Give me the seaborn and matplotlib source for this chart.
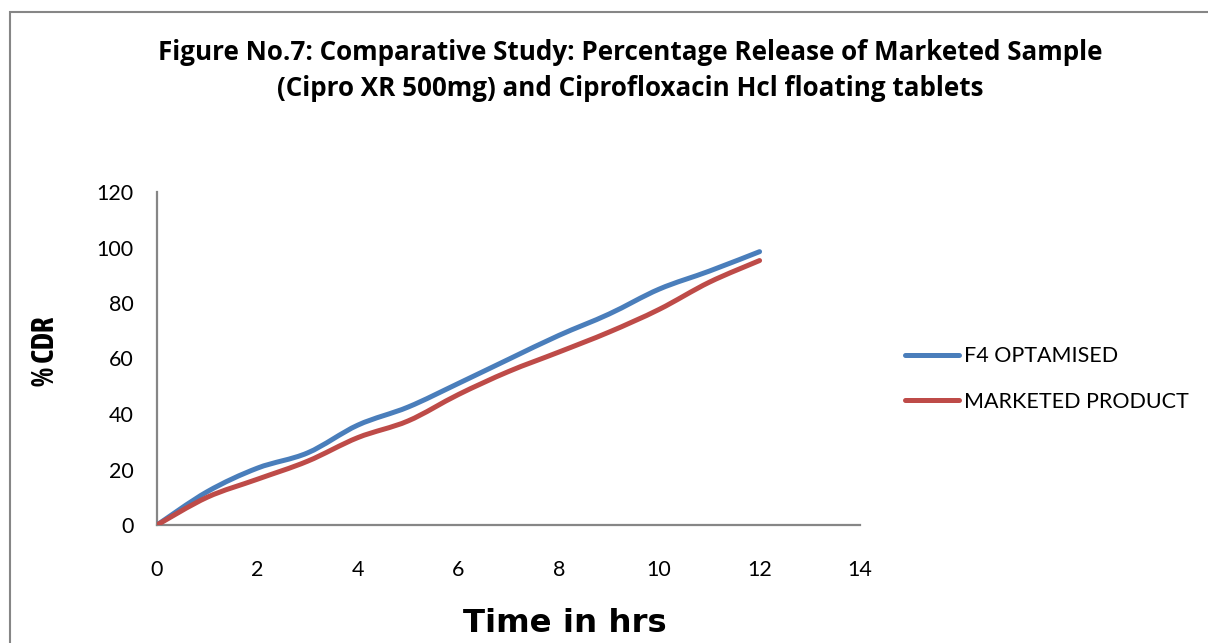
import matplotlib
matplotlib.use("Agg")
import matplotlib.pyplot as plt
from matplotlib import font_manager
from matplotlib.path import Path
from matplotlib.patches import PathPatch, Rectangle
from matplotlib.lines import Line2D
import numpy as np
import pandas as pd
import seaborn as sns

# Dissolution data: % cumulative drug release versus time (hours)
time_hrs = [0, 1, 2, 3, 4, 5, 6, 7, 8, 9, 10, 11, 12]
f4_optimised = [0, 12, 20.5, 26, 36, 42.5, 51, 59.7, 68.3, 76, 85, 91.5, 98.5]
marketed_product = [0, 10, 16.5, 23, 31.5, 37.5, 47, 55.3, 62.3, 69.5, 77.7, 87.5, 95.3]
series_names = ["F4 OPTAMISED", "MARKETED PRODUCT"]
series_colors = ["#4A7EBB", "#BE4B48"]
x_ticks = [0, 2, 4, 6, 8, 10, 12, 14]
y_ticks = [0, 20, 40, 60, 80, 100, 120]

df = pd.concat([
    pd.DataFrame({"time": time_hrs, "cdr": f4_optimised, "series": series_names[0]}),
    pd.DataFrame({"time": time_hrs, "cdr": marketed_product, "series": series_names[1]}),
])

sns.set_theme(style="white")
plt.rcParams["font.family"] = ["Lato", "DejaVu Sans"]
plt.rcParams["text.color"] = "black"

# Pick a narrow bold face for the vertical axis title if one is installed
narrow_family = None
for f in font_manager.fontManager.ttflist:
    nm = f.name.lower()
    if ("narrow" in nm or "condensed" in nm) and ("bold" in str(f.weight).lower() or f.weight in (600, 700, 800, 900)):
        narrow_family = f.name
        break
if narrow_family is None:
    for f in font_manager.fontManager.ttflist:
        nm = f.name.lower()
        if "narrow" in nm or "condensed" in nm:
            narrow_family = f.name
            break
y_title_family = [narrow_family, "DejaVu Sans"] if narrow_family else ["DejaVu Sans"]
y_title_size = 22 if narrow_family else 16

W, H = 1208, 643
fig = plt.figure(figsize=(W / 100, H / 100), dpi=100)
fig.patch.set_facecolor("white")
ax = fig.add_axes([157 / W, 1 - 525 / H, (860 - 157) / W, (525 - 192) / H])

sns.lineplot(data=df, x="time", y="cdr", hue="series", palette=series_colors,
             linewidth=3.6, ax=ax, legend=False)


def smooth_path(x, y):
    """Bezier path through the points, using spreadsheet-style smoothing."""
    pts = np.column_stack([x, y]).astype(float)
    n = len(pts)
    verts = [pts[0]]
    codes = [Path.MOVETO]
    for i in range(n - 1):
        p0 = pts[i - 1] if i > 0 else pts[i]
        p1, p2 = pts[i], pts[i + 1]
        p3 = pts[i + 2] if i + 2 < n else pts[i + 1]
        c1 = p1 + (p2 - p0) / 6.0
        c2 = p2 - (p3 - p1) / 6.0
        verts += [c1, c2, p2]
        codes += [Path.CURVE4] * 3
    return Path(verts, codes)


# Replace straight segments with smoothed curves
for line in list(ax.lines):
    xs, ys = line.get_xdata(), line.get_ydata()
    patch = PathPatch(smooth_path(xs, ys), facecolor="none", edgecolor=line.get_color(),
                      linewidth=3.6, capstyle="round", joinstyle="round", zorder=3)
    ax.add_patch(patch)
    line.set_visible(False)

ax.set_xlim(0, 14)
ax.set_ylim(0, 120)
ax.set_xticks(x_ticks)
ax.set_yticks(y_ticks)
ax.set_xticklabels([str(t) for t in x_ticks])
ax.set_yticklabels([str(t) for t in y_ticks])
ax.tick_params(axis="x", length=0, pad=25, labelsize=15.5, colors="black")
ax.tick_params(axis="y", length=0, pad=17, labelsize=15.5, colors="black")
ax.set_xlabel("")
ax.set_ylabel("")
for side in ["top", "right"]:
    ax.spines[side].set_visible(False)
for side in ["left", "bottom"]:
    ax.spines[side].set_color("#868686")
    ax.spines[side].set_linewidth(1.6)
ax.grid(False)

# Legend
handles = [Line2D([0], [0], color=c, linewidth=3.6, solid_capstyle="round") for c in series_colors]
fig.legend(handles, series_names, loc="center left",
           bbox_to_anchor=(905 / W, 1 - 379 / H), frameon=False,
           fontsize=15.5, handlelength=2.5, handletextpad=0.25,
           labelspacing=1.2, borderpad=0, borderaxespad=0)

# Titles and axis labels
title_kw = dict(ha="center", va="center", fontsize=18.7, fontweight="bold",
                color="black", family=["Open Sans", "Lato", "DejaVu Sans"])
fig.text(630 / W, 1 - 53 / H, "Figure No.7: Comparative Study: Percentage Release of Marketed Sample",
         **title_kw)
fig.text(630 / W, 1 - 89 / H, "(Cipro XR 500mg) and Ciprofloxacin Hcl floating tablets",
         **title_kw)
fig.text(565 / W, 1 - 623 / H, "Time in hrs", ha="center", va="center",
         fontsize=23.3, fontweight="bold", color="black", family=["DejaVu Sans"])
fig.text(45 / W, 1 - 351 / H, "% CDR", ha="center", va="center", rotation=90,
         fontsize=y_title_size, fontweight="bold", color="black", family=y_title_family)

# Chart frame
fig.add_artist(Rectangle((10 / W, -0.1), 1.2, 1 - 12 / H + 0.1, transform=fig.transFigure,
                         facecolor="none", edgecolor="#868686", linewidth=1.5, clip_on=False))

fig.savefig("out.png", dpi=100)
